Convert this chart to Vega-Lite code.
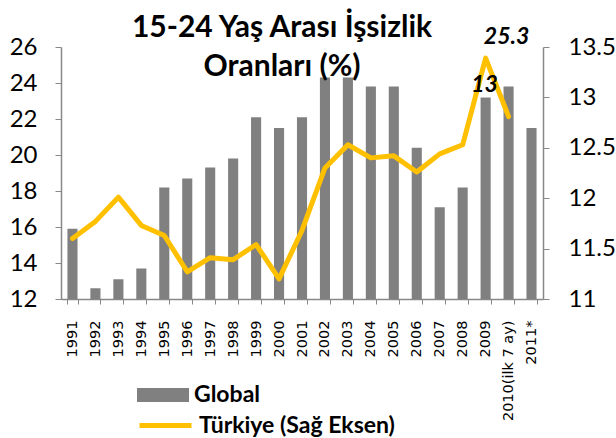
{
  "$schema": "https://vega.github.io/schema/vega-lite/v6.json",
  "width": 482,
  "height": 252,
  "autosize": {"type": "none"},
  "padding": {"left": 61, "top": 47, "right": 73, "bottom": 139},
  "background": "white",
  "title": {
    "text": ["15-24 Yaş Arası İşsizlik", "Oranları (%)"],
    "font": "Lato",
    "fontSize": 30,
    "fontWeight": "bold",
    "color": "black",
    "anchor": "middle",
    "dx": -20,
    "offset": -56,
    "lineHeight": 39
  },
  "data": {
    "values": [
      {"year": "1991", "global": 15.9, "tr": 11.6},
      {"year": "1992", "global": 12.6, "tr": 11.77},
      {"year": "1993", "global": 13.1, "tr": 12.01},
      {"year": "1994", "global": 13.7, "tr": 11.73},
      {"year": "1995", "global": 18.2, "tr": 11.63},
      {"year": "1996", "global": 18.7, "tr": 11.27},
      {"year": "1997", "global": 19.3, "tr": 11.41},
      {"year": "1998", "global": 19.8, "tr": 11.39},
      {"year": "1999", "global": 22.1, "tr": 11.54},
      {"year": "2000", "global": 21.5, "tr": 11.2},
      {"year": "2001", "global": 22.1, "tr": 11.68},
      {"year": "2002", "global": 24.3, "tr": 12.3},
      {"year": "2003", "global": 24.3, "tr": 12.53},
      {"year": "2004", "global": 23.8, "tr": 12.4},
      {"year": "2005", "global": 23.8, "tr": 12.42},
      {"year": "2006", "global": 20.4, "tr": 12.26},
      {"year": "2007", "global": 17.1, "tr": 12.44},
      {"year": "2008", "global": 18.2, "tr": 12.53},
      {"year": "2009", "global": 23.2, "tr": 13.39},
      {"year": "2010(ilk 7 ay)", "global": 23.8, "tr": 12.81},
      {"year": "2011*", "global": 21.5, "tr": null}
    ]
  },
  "encoding": {
    "x": {
      "field": "year",
      "type": "nominal",
      "sort": null,
      "scale": {"paddingInner": 0.56, "paddingOuter": 0.28},
      "axis": {
        "title": null,
        "labelAngle": -90,
        "labelFont": "DejaVu Sans",
        "labelFontSize": 14.5,
        "labelColor": "black",
        "labelPadding": 16,
        "tickBand": "extent",
        "tickSize": 5,
        "tickColor": "#888888",
        "domainColor": "#888888",
        "domainWidth": 1.5
      }
    }
  },
  "layer": [
    {
      "mark": {"type": "bar", "color": "#808080", "clip": true},
      "encoding": {
        "y": {
          "field": "global",
          "type": "quantitative",
          "scale": {"domain": [12, 26], "nice": false, "zero": false},
          "axis": {
            "title": null,
            "orient": "left",
            "values": [12, 14, 16, 18, 20, 22, 24, 26],
            "grid": false,
            "labelFont": "Lato",
            "labelFontSize": 24,
            "labelColor": "black",
            "labelPadding": 18,
            "tickSize": 6,
            "tickColor": "#888888",
            "domainColor": "#888888",
            "domainWidth": 1.5
          }
        },
        "fill": {
          "datum": "Global",
          "type": "nominal",
          "scale": {"domain": ["Global"], "range": ["#808080"]},
          "legend": {
            "title": null,
            "orient": "none",
            "legendX": 76,
            "legendY": 322,
            "padding": 0,
            "symbolType": "M-1,-0.27L1,-0.27L1,0.27L-1,0.27Z",
            "symbolSize": 2704,
            "symbolStrokeWidth": 0,
            "labelFont": "Lato",
            "labelFontSize": 23,
            "labelFontWeight": "bold",
            "labelColor": "black",
            "labelOffset": 5,
            "labelLimit": 400
          }
        }
      }
    },
    {
      "encoding": {
        "y": {
          "field": "tr",
          "type": "quantitative",
          "scale": {"domain": [11, 13.5], "nice": false, "zero": false},
          "axis": {
            "title": null,
            "orient": "right",
            "values": [11, 11.5, 12, 12.5, 13, 13.5],
            "format": "~g",
            "grid": false,
            "labelFont": "Lato",
            "labelFontSize": 24,
            "labelColor": "black",
            "labelPadding": 19,
            "tickSize": 6,
            "tickColor": "#888888",
            "domainColor": "#888888",
            "domainWidth": 1.5
          }
        }
      },
      "layer": [
        {
          "mark": {"type": "line", "strokeWidth": 5, "strokeJoin": "round", "strokeCap": "round"},
          "encoding": {
            "stroke": {
              "datum": "Türkiye (Sağ Eksen)",
              "type": "nominal",
              "scale": {"domain": ["Türkiye (Sağ Eksen)"], "range": ["#FFC000"]},
              "legend": {
                "title": null,
                "orient": "none",
                "legendX": 76,
                "legendY": 350,
                "padding": 0,
                "symbolType": "stroke",
                "symbolSize": 2704,
                "symbolStrokeWidth": 5,
                "labelFont": "Lato",
                "labelFontSize": 23,
                "labelFontWeight": "bold",
                "labelColor": "black",
                "labelOffset": 5,
                "labelLimit": 400
              }
            }
          }
        },
        {
          "data": {"values": [{"year": "2009", "tr": 13.39, "lbl": "25.3"}]},
          "mark": {"type": "text", "font": "Lato", "fontSize": 23, "fontWeight": "bold", "fontStyle": "italic", "color": "black", "dx": 21, "dy": -21},
          "encoding": {"text": {"field": "lbl"}}
        },
        {
          "data": {"values": [{"year": "2009", "tr": 13.39, "lbl": "13"}]},
          "mark": {"type": "text", "font": "Lato", "fontSize": 23, "fontWeight": "bold", "fontStyle": "italic", "color": "black", "dx": -1, "dy": 27},
          "encoding": {"text": {"field": "lbl"}}
        }
      ]
    }
  ],
  "resolve": {"scale": {"y": "independent"}},
  "config": {"view": {"stroke": null}}
}
